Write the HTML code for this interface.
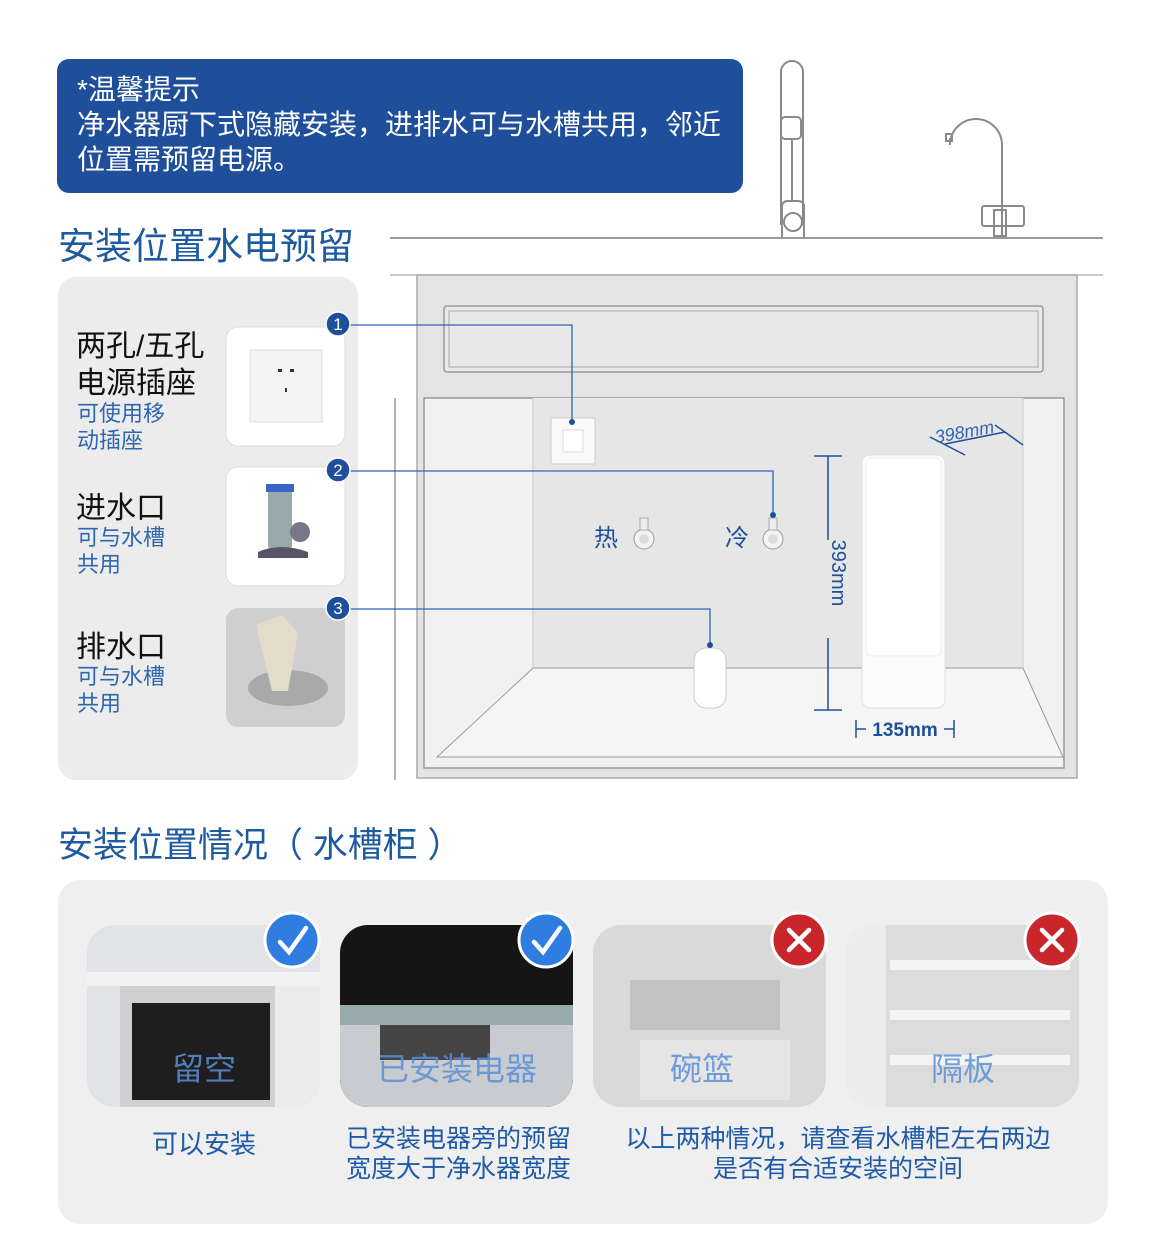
<!DOCTYPE html>
<html><head><meta charset="utf-8">
<style>
html,body{margin:0;padding:0;background:#fff;}
body{width:1169px;height:1238px;position:relative;overflow:hidden;font-family:"Liberation Sans","Noto Sans CJK SC",sans-serif;}
.t{position:absolute;white-space:nowrap;}
</style></head><body>
<svg width="1169" height="1238" style="position:absolute;left:0;top:0" xmlns="http://www.w3.org/2000/svg">
<rect x="57" y="59" width="686" height="134" rx="12" fill="#1f4f9b"/>
<g fill="none" stroke="#8a8a8a" stroke-width="2">
<path d="M781,225 V72 a11,11 0 0 1 22,0 V225"/>
<rect x="781" y="117" width="20" height="22" rx="4"/>
<path d="M792,139 V200"/>
<path d="M782,237 V207 q0,-6 6,-6 h10 q6,0 6,6 V237"/>
<circle cx="793" cy="222" r="9"/>
<path d="M1002,237 V145 a26,26 0 0 0 -52,0 V138"/>
<rect x="946" y="134" width="6" height="7"/>
<rect x="982" y="206" width="42" height="20" rx="2"/>
<rect x="994" y="210" width="12" height="26"/>
</g>
<line x1="390" y1="238" x2="1103" y2="238" stroke="#9a9a9a" stroke-width="2"/>
<line x1="390" y1="275" x2="1103" y2="275" stroke="#b5b5b5" stroke-width="1.5"/>
<rect x="58" y="277" width="300" height="503" rx="18" fill="#ececec"/>
<rect x="226" y="327" width="119" height="119" rx="12" fill="#fff" stroke="#ddd"/>
<rect x="226" y="467" width="119" height="119" rx="12" fill="#fff" stroke="#ddd"/>
<rect x="250" y="350" width="72" height="72" fill="#f4f4f4" stroke="#ddd"/>
<rect x="278" y="369" width="4" height="3" fill="#333"/><rect x="290" y="369" width="4" height="3" fill="#333"/>
<rect x="285" y="388" width="2" height="4" fill="#333"/>
<rect x="268" y="488" width="24" height="60" fill="#9aa" rx="2"/>
<rect x="266" y="484" width="28" height="8" fill="#3a63c8"/>
<circle cx="300" cy="532" r="10" fill="#778"/>
<path d="M258,552 q22,-10 50,0 v6 h-50 z" fill="#556"/>
<rect x="226" y="608" width="119" height="119" rx="12" fill="#cfcfcf"/>
<ellipse cx="288" cy="688" rx="40" ry="18" fill="#a9a9a9"/>
<path d="M256,625 l26,-10 16,18 -10,58 -16,0 z" fill="#e4dcc8"/>
<rect x="417" y="275" width="660" height="503" fill="#e4e4e4" stroke="#aaa" stroke-width="1.5"/>
<rect x="444" y="306" width="599" height="66" rx="3" fill="#e8e8e8" stroke="#999" stroke-width="1.5"/>
<rect x="449" y="311" width="589" height="56" fill="none" stroke="#aaa"/>
<line x1="395" y1="398" x2="395" y2="780" stroke="#999" stroke-width="1.5"/>
<rect x="424" y="398" width="640" height="370" fill="#f1f1f1" stroke="#999" stroke-width="1.5"/>
<rect x="533" y="398" width="490" height="270" fill="#e6e6e6"/>
<polygon points="533,668 1023,668 1063,757 437,757" fill="#f5f5f5" stroke="#999" stroke-width="1"/>
<line x1="533" y1="398" x2="533" y2="668" stroke="#ccc"/>
<line x1="1023" y1="398" x2="1023" y2="668" stroke="#ccc"/>
<line x1="437" y1="757" x2="1063" y2="757" stroke="#999"/>
<rect x="551" y="418" width="44" height="46" fill="#fafafa" stroke="#ccc"/>
<rect x="563" y="430" width="20" height="22" fill="#fff" stroke="#ddd"/>
<circle cx="644" cy="539" r="10" fill="#f3f3f3" stroke="#999"/><circle cx="644" cy="539" r="5" fill="#ddd"/>
<rect x="640" y="518" width="8" height="12" fill="#eee" stroke="#aaa"/>
<circle cx="773" cy="539" r="10" fill="#f3f3f3" stroke="#999"/><circle cx="773" cy="539" r="5" fill="#ddd"/>
<rect x="769" y="518" width="8" height="12" fill="#eee" stroke="#aaa"/>
<rect x="694" y="648" width="32" height="60" rx="12" fill="#fff" stroke="#ccc"/>
<rect x="862" y="455" width="83" height="253" rx="8" fill="#fbfbfb" stroke="#e0e0e0"/>
<rect x="866" y="458" width="75" height="198" rx="6" fill="#fff" stroke="#eee"/>
<g stroke="#1f4f9b" stroke-width="1.5">
<line x1="828" y1="456" x2="828" y2="540"/><line x1="828" y1="638" x2="828" y2="710"/>
<line x1="814" y1="456" x2="842" y2="456"/><line x1="814" y1="710" x2="842" y2="710"/>
<line x1="856" y1="720" x2="856" y2="738"/><line x1="954" y1="720" x2="954" y2="738"/>
<line x1="856" y1="729" x2="866" y2="729"/><line x1="944" y1="729" x2="954" y2="729"/>
<line x1="945" y1="444" x2="1005" y2="432"/><line x1="930" y1="437" x2="965" y2="455"/><line x1="995" y1="425" x2="1023" y2="445"/>
</g>
<g stroke="#2f66b0" stroke-width="1.3" fill="none">
<path d="M338,325 H572 V422"/><path d="M338,471 H773 V515"/><path d="M338,609 H710 V648"/>
</g>
<g fill="#1f4f9b"><circle cx="572" cy="422" r="3"/><circle cx="773" cy="515" r="3"/><circle cx="710" cy="645" r="3"/></g>
<g fill="#1f4f9b" stroke="#fff" stroke-width="1.5">
<circle cx="338" cy="324" r="12"/><circle cx="338" cy="470" r="12"/><circle cx="338" cy="608" r="12"/></g>
<g fill="#fff" font-size="17" font-family="Liberation Sans" text-anchor="middle">
<text x="338" y="330">1</text><text x="338" y="476">2</text><text x="338" y="614">3</text></g>
<text x="817" y="588" transform="rotate(90 832 588)" font-size="20" fill="#1f4f9b" text-anchor="middle" font-family="Liberation Sans">393mm</text>
<text x="964" y="438" transform="rotate(-10 964 430)" font-size="18" fill="#2f66b0" text-anchor="middle" font-family="Liberation Sans" font-style="italic">398mm</text>
<text x="905" y="736" font-size="19" fill="#1f4f9b" text-anchor="middle" font-family="Liberation Sans" font-weight="bold">135mm</text>
<rect x="58" y="880" width="1050" height="344" rx="22" fill="#efefef"/>
<defs><clipPath id="c1"><rect x="87" y="925" width="233" height="182" rx="28"/></clipPath>
<clipPath id="c2"><rect x="340" y="925" width="233" height="182" rx="28"/></clipPath>
<clipPath id="c3"><rect x="593" y="925" width="233" height="182" rx="28"/></clipPath>
<clipPath id="c4"><rect x="846" y="925" width="233" height="182" rx="28"/></clipPath></defs>
<g clip-path="url(#c1)"><rect x="87" y="925" width="233" height="182" fill="#e2e3e6"/>
<rect x="87" y="972" width="233" height="14" fill="#f2f2f2"/><rect x="120" y="986" width="200" height="121" fill="#d0d0d0"/>
<rect x="132" y="1003" width="138" height="97" fill="#1e1e1e"/><rect x="275" y="986" width="45" height="121" fill="#ececec"/></g>
<g clip-path="url(#c2)"><rect x="340" y="925" width="233" height="182" fill="#151515"/>
<rect x="340" y="1005" width="233" height="20" fill="#9aa"/><rect x="340" y="1025" width="233" height="82" fill="#c8ccd0"/>
<rect x="380" y="1025" width="110" height="35" fill="#444"/></g>
<g clip-path="url(#c3)"><rect x="593" y="925" width="233" height="182" fill="#d9d9d9"/>
<rect x="630" y="980" width="150" height="50" fill="#c2c2c2"/><rect x="640" y="1040" width="150" height="60" fill="#e5e5e5"/></g>
<g clip-path="url(#c4)"><rect x="846" y="925" width="233" height="182" fill="#dcdcdc"/>
<rect x="890" y="960" width="180" height="10" fill="#f4f4f4"/><rect x="890" y="1010" width="180" height="10" fill="#f4f4f4"/><rect x="890" y="1055" width="180" height="10" fill="#f4f4f4"/>
<rect x="846" y="925" width="40" height="182" fill="#ececec"/></g>
<g stroke="#fff" stroke-width="3">
<circle cx="292" cy="940" r="27" fill="#2f7de0"/><circle cx="546" cy="940" r="27" fill="#2f7de0"/>
<circle cx="799" cy="940" r="27" fill="#c9262c"/><circle cx="1052" cy="940" r="27" fill="#c9262c"/></g>
<g stroke="#fff" stroke-width="4.5" fill="none" stroke-linecap="round">
<path d="M280,942 l9,10 17,-24"/><path d="M534,942 l9,10 17,-24"/>
<path d="M789,930 l20,20 M809,930 l-20,20"/><path d="M1042,930 l20,20 M1062,930 l-20,20"/></g>
<g font-size="32" fill="#5a8fd6" fill-opacity="0.85" text-anchor="middle" font-family="Liberation Sans,Noto Sans CJK SC,sans-serif">
<text x="204" y="1080">留空</text><text x="457" y="1080">已安装电器</text><text x="702" y="1080">碗篮</text><text x="963" y="1080">隔板</text></g>
</svg>
<div class="t" style="left:77px;top:72px;color:#fff;font-size:28px;line-height:35px;">*温馨提示<br>净水器厨下式隐藏安装，进排水可与水槽共用，邻近<br>位置需预留电源。</div>
<div class="t" style="left:58px;top:216px;color:#1d5a9e;font-size:37px;">安装位置水电预留</div>
<div class="t" style="left:76px;top:328px;font-size:30px;line-height:37px;color:#111;">两孔/五孔<br>电源插座</div>
<div class="t" style="left:77px;top:400px;font-size:22px;line-height:27px;color:#2f66b0;">可使用移<br>动插座</div>
<div class="t" style="left:76px;top:483px;font-size:30px;color:#111;">进水口</div>
<div class="t" style="left:77px;top:524px;font-size:22px;line-height:27px;color:#2f66b0;">可与水槽<br>共用</div>
<div class="t" style="left:76px;top:622px;font-size:30px;color:#111;">排水口</div>
<div class="t" style="left:77px;top:663px;font-size:22px;line-height:27px;color:#2f66b0;">可与水槽<br>共用</div>
<div class="t" style="left:594px;top:518px;font-size:24px;color:#1f4f9b;">热</div>
<div class="t" style="left:725px;top:518px;font-size:24px;color:#1f4f9b;">冷</div>
<div class="t" style="left:58px;top:817px;color:#1d5a9e;font-size:35px;">安装位置情况（ 水槽柜 ）</div>
<div class="t" style="left:152px;top:1124px;font-size:26px;color:#1f5aa8;">可以安装</div>
<div class="t" style="left:346px;top:1124px;font-size:25px;line-height:30px;color:#1f5aa8;">已安装电器旁的预留<br>宽度大于净水器宽度</div>
<div class="t" style="left:610px;top:1124px;width:456px;text-align:center;font-size:25px;line-height:30px;color:#1f5aa8;">以上两种情况，请查看水槽柜左右两边<br>是否有合适安装的空间</div>
</body></html>
